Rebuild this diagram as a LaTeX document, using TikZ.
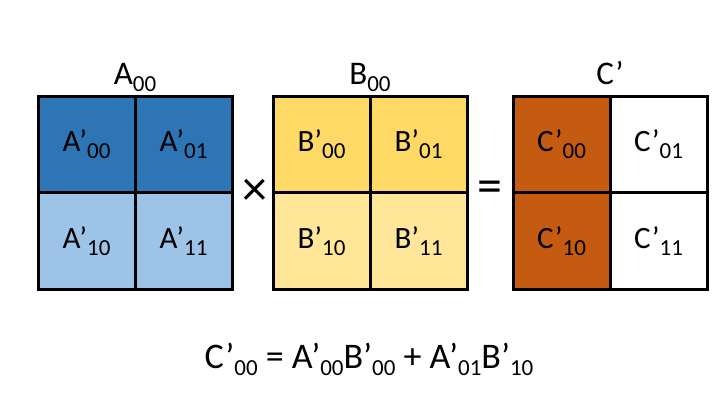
\documentclass[tikz,border=0pt]{standalone}
\usepackage{fontspec}
\setmainfont{Carlito}

\definecolor{blueDark}{HTML}{2E75B6}
\definecolor{blueLight}{HTML}{9DC3E6}
\definecolor{goldDark}{HTML}{FFD966}
\definecolor{goldLight}{HTML}{FFE699}
\definecolor{rust}{HTML}{C55A11}

\newcommand{\ix}[1]{\raisebox{-7pt}{\fontsize{23}{23}\selectfont#1}}

\tikzset{
  cell/.style={draw=black, line width=3pt, minimum width=97pt, minimum height=96.5pt,
    inner sep=0pt, font=\fontsize{31}{33}\selectfont},
  title/.style={anchor=base, font=\fontsize{33}{35}\selectfont},
  sign/.style={font=\fontsize{50}{52}\selectfont}
}

\begin{document}
\begin{tikzpicture}[x=1pt, y=-1pt]
\useasboundingbox (0,0) rectangle (720,403);
% matrix A
\node[cell, fill=blueDark] (a00) at (86.5,144.5) {A’\ix{00}};
\node[cell, fill=blueDark] (a01) at (183.5,144.5) {A’\ix{01}};
\node[cell, fill=blueLight] (a10) at (86.5,241) {A’\ix{10}};
\node[cell, fill=blueLight] (a11) at (183.5,241) {A’\ix{11}};
% matrix B
\node[cell, fill=goldDark] (b00) at (321.5,144.5) {B’\ix{00}};
\node[cell, fill=goldDark] (b01) at (418.5,144.5) {B’\ix{01}};
\node[cell, fill=goldLight] (b10) at (321.5,241) {B’\ix{10}};
\node[cell, fill=goldLight] (b11) at (418.5,241) {B’\ix{11}};
% matrix C
\node[cell, fill=rust] (c00) at (561.5,144.5) {C’\ix{00}};
\node[cell, fill=white] (c01) at (658.5,144.5) {C’\ix{01}};
\node[cell, fill=rust] (c10) at (561.5,241) {C’\ix{10}};
\node[cell, fill=white] (c11) at (658.5,241) {C’\ix{11}};
% titles
\node[title] (ta) at (135,85) {A\ix{00}};
\node[title] (tb) at (370,85) {B\ix{00}};
\node[title] (tc) at (610,85) {C’};
% operators
\node[sign] (times) at (254.5,192) {×};
\node[sign] (equals) at (490,192) {=};
% equation
\node[anchor=base, font=\fontsize{36}{38}\selectfont] (eqn) at (369,368)
  {C’\ix{00} = A’\ix{00}B’\ix{00} + A’\ix{01}B’\ix{10}};
\end{tikzpicture}
\end{document}
